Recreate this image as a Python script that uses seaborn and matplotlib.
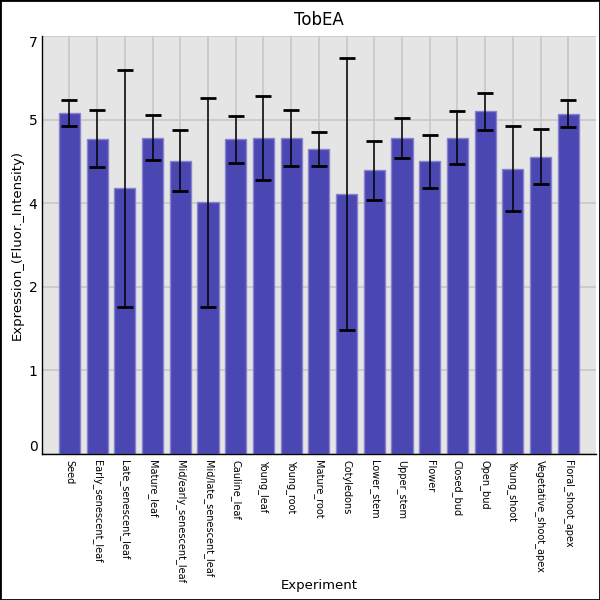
import pandas as pd
import seaborn as sns
import matplotlib.pyplot as plt
from matplotlib.ticker import FixedLocator, FuncFormatter

# Dados
experimentos = ["Seed", "Early_senescent_leaf", "Late_senescent_leaf", "Mature_leaf",
                "Mid/early_senescent_leaf", "Mid/late_senescent_leaf", "Cauline_leaf",
                "Young_leaf", "Young_root", "Mature_root", "Cotyledons", "Lower_stem",
                "Upper_stem", "Flower", "Closed_bud", "Open_bud", "Young_shoot",
                "Vegetative_shoot_apex", "Floral_shoot_apex"]
media = [5.71, 5.28, 4.45, 5.30, 4.91, 4.22, 5.27, 5.29, 5.29, 5.11, 4.35, 4.75,
         5.29, 4.90, 5.30, 5.74, 4.78, 4.98, 5.70]
erro = [0.22, 0.48, 1.98, 0.38, 0.51, 1.75, 0.39, 0.70, 0.47, 0.29, 2.28, 0.50,
        0.33, 0.44, 0.45, 0.31, 0.71, 0.46, 0.22]
y_ticks = [0, 1.4, 2.8, 4.2, 5.6, 7.0]

df = pd.DataFrame({"Experiment": experimentos, "valor": media, "erro": erro})

sns.set_theme(style="whitegrid")
plt.rcParams["font.family"] = ["DejaVu Sans"]
plt.rcParams["text.color"] = "black"
plt.rcParams["axes.labelcolor"] = "black"
plt.rcParams["xtick.color"] = "black"
plt.rcParams["ytick.color"] = "black"

fig = plt.figure(figsize=(6, 6), dpi=100)
ax = fig.add_axes([0.0695, 0.2433, 0.9238, 0.6967])
ax.set_facecolor("#e5e5e5")

sns.barplot(data=df, x="Experiment", y="valor", color="#4a46b2", saturation=1,
            width=0.76, edgecolor="#8682cc", linewidth=1, ax=ax, zorder=2)

# Barras de erro
centros = [p.get_x() + p.get_width() / 2 for p in ax.patches]
ax.errorbar(centros, df["valor"], yerr=df["erro"], fmt="none", ecolor="black",
            elinewidth=1.1, capsize=6, capthick=2, zorder=3)

ax.set_xlim(-1, len(experimentos))
ax.set_ylim(0, 7)
ax.yaxis.set_major_locator(FixedLocator(y_ticks))
ax.yaxis.set_major_formatter(FuncFormatter(lambda v, p: str(int(v + 1e-9))))

ax.grid(True, color="#c8c8c8", linewidth=1.2, zorder=0)
ax.set_axisbelow(True)
for s in ["top", "right"]:
    ax.spines[s].set_visible(False)
for s in ["left", "bottom"]:
    ax.spines[s].set_color("black")
    ax.spines[s].set_linewidth(1)

ax.tick_params(axis="y", labelsize=10, length=0, pad=3)
ax.tick_params(axis="x", labelsize=7, length=0, pad=4, labelrotation=270)
labs = ax.get_yticklabels()
labs[0].set_va("bottom")
labs[-1].set_va("top")

ax.set_title("TobEA", fontsize=12, pad=8)
ax.set_xlabel("Experiment", fontsize=9.5)
ax.set_ylabel("Expression_(Fluor._Intensity)", fontsize=9.5)
ax.xaxis.set_label_coords(0.5, -0.30)
ax.yaxis.set_label_coords(-0.033, 0.5)

fig.patches.append(plt.Rectangle((0, 0), 1, 1, transform=fig.transFigure,
                                 fill=False, edgecolor="black", linewidth=2))

plt.savefig("out.png", dpi=100)
